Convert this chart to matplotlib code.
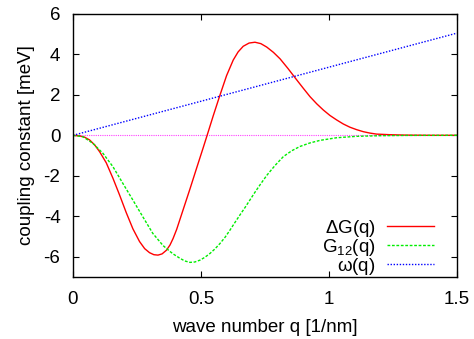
import matplotlib
matplotlib.use("Agg")
import matplotlib.pyplot as plt

# values
q_dg = [0.0, 0.026, 0.045, 0.065, 0.085, 0.104, 0.130, 0.156, 0.182, 0.208, 0.234, 0.260,
        0.280, 0.299, 0.316, 0.332, 0.348, 0.365, 0.379, 0.391, 0.405, 0.431, 0.457, 0.483,
        0.509, 0.524, 0.548, 0.574, 0.600, 0.626, 0.645, 0.665, 0.688, 0.711, 0.734, 0.757,
        0.783, 0.809, 0.840, 0.874, 0.900, 0.926, 0.952, 0.978, 1.004, 1.030, 1.056, 1.082,
        1.108, 1.134, 1.160, 1.186, 1.238, 1.30, 1.40, 1.50]
dg = [0.0, -0.03, -0.09, -0.23, -0.48, -0.81, -1.36, -2.12, -2.95, -3.82, -4.62, -5.25,
      -5.60, -5.80, -5.90, -5.92, -5.86, -5.68, -5.42, -5.10, -4.65, -3.65, -2.65, -1.62,
      -0.60, 0.0, 0.97, 1.98, 2.95, 3.72, 4.12, 4.40, 4.56, 4.60, 4.53, 4.36,
      4.10, 3.78, 3.30, 2.74, 2.32, 1.91, 1.56, 1.25, 0.98, 0.76, 0.56, 0.40,
      0.28, 0.18, 0.11, 0.06, 0.03, 0.01, 0.0, 0.0]

q_g12 = [0.0, 0.039, 0.078, 0.117, 0.156, 0.195, 0.234, 0.273, 0.312, 0.352, 0.379, 0.391,
         0.418, 0.437, 0.457, 0.476, 0.496, 0.515, 0.535, 0.554, 0.574, 0.594, 0.613, 0.632,
         0.652, 0.672, 0.691, 0.710, 0.730, 0.757, 0.790, 0.822, 0.855, 0.887, 0.925, 0.965,
         1.03, 1.108, 1.20, 1.30, 1.50]
g12 = [0.0, -0.07, -0.40, -0.89, -1.55, -2.38, -3.20, -4.03, -4.85, -5.45, -5.74, -5.86,
       -6.08, -6.21, -6.28, -6.26, -6.17, -6.03, -5.84, -5.62, -5.35, -5.04, -4.69, -4.32,
       -3.94, -3.57, -3.20, -2.83, -2.46, -1.98, -1.48, -1.05, -0.76, -0.55, -0.38, -0.25,
       -0.12, -0.05, -0.02, -0.005, 0.0]

q_w = [0.0, 1.5]
w = [0.0, 5.05]

q_zero = [0.0, 1.5]
zero = [0.0, 0.0]

xticks = [0, 0.5, 1, 1.5]
xticklabels = ["0", "0.5", "1", "1.5"]
yticks = [-6, -4, -2, 0, 2, 4, 6]
yticklabels = ["-6", "-4", "-2", "0", "2", "4", "6"]

plt.rcParams['font.family'] = ['Liberation Sans', 'DejaVu Sans']
plt.rcParams['mathtext.default'] = 'regular'
plt.rcParams['font.size'] = 13.5

fig = plt.figure(figsize=(4.74, 3.39), dpi=100)
ax = fig.add_axes([0.154, 0.183, 0.810, 0.776])

ax.plot(q_zero, zero, color='#ff40ff', lw=0.8, ls=(0, (1, 1)))
ax.plot(q_dg, dg, color='#ff0000', lw=1.0, label=r'$\Delta$G(q)')
ax.plot(q_g12, g12, color='#00ee00', lw=1.0, ls=(0, (2, 1.2)), label='G$_{12}$(q)')
ax.plot(q_w, w, color='#0000ff', lw=1.0, ls=(0, (1, 1.2)), label=r'$\omega$(q)')

ax.set_xlim(0, 1.5)
ax.set_ylim(-7, 6)
ax.set_xticks(xticks)
ax.set_xticklabels(xticklabels)
ax.set_yticks(yticks)
ax.set_yticklabels(yticklabels)
ax.tick_params(direction='in', length=4, width=0.8, top=True, right=True)
ax.tick_params(axis='x', pad=10)
ax.tick_params(axis='y', pad=9)
for s in ax.spines.values():
    s.set_linewidth(1.0)

ax.set_xlabel('wave number q [1/nm]', labelpad=8)
ax.set_ylabel('coupling constant [meV]', labelpad=6)

ax.legend(loc='lower right', bbox_to_anchor=(0.94, 0.0), frameon=False,
          markerfirst=False, handlelength=2.5, handletextpad=0.6,
          labelspacing=-0.1, borderpad=0.0, borderaxespad=0.0)

fig.savefig('out.png', dpi=100)
